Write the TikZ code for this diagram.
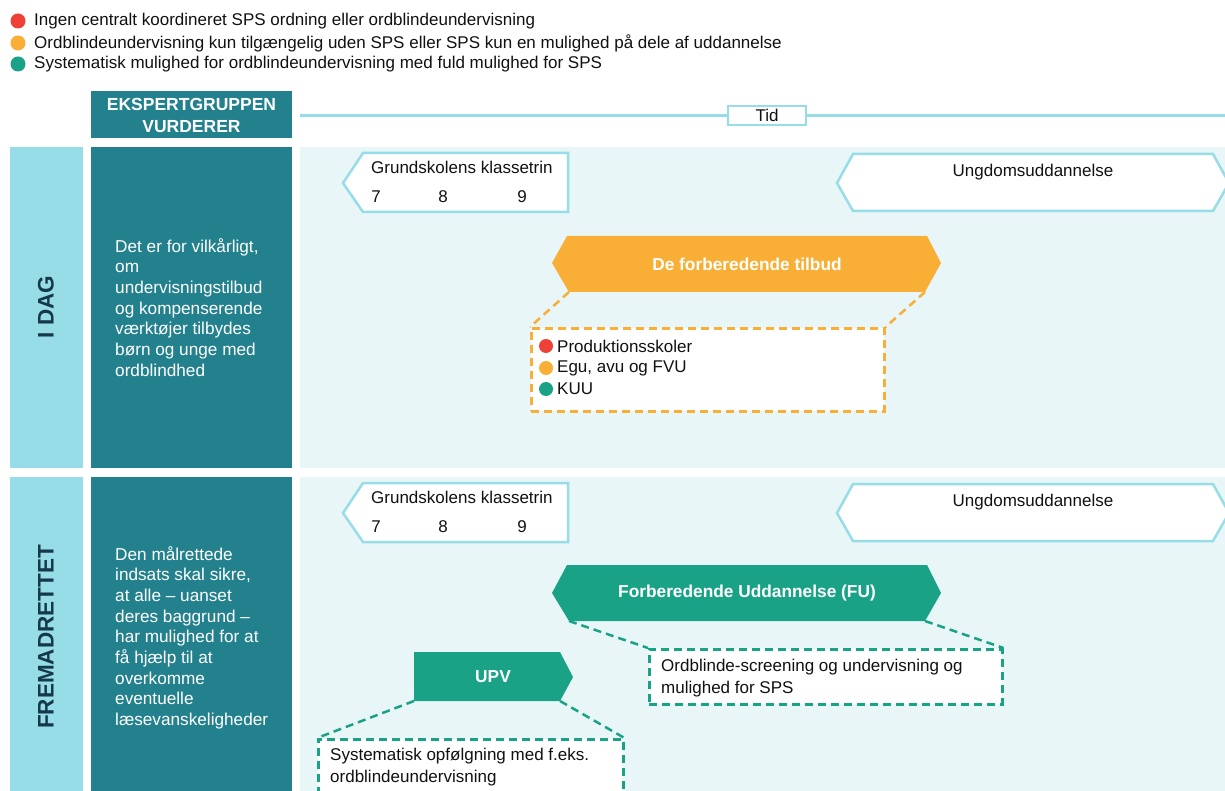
\documentclass[tikz,border=0pt]{standalone}
\usepackage{fontspec}
\setmainfont{Liberation Sans}
\definecolor{cteal}{HTML}{22818D}
\definecolor{ccol}{HTML}{96DDE7}
\definecolor{cbg}{HTML}{E8F6F8}
\definecolor{cline}{HTML}{96DDE7}
\definecolor{corange}{HTML}{F9AF35}
\definecolor{cgreen}{HTML}{1AA286}
\definecolor{cred}{HTML}{EE4036}
\definecolor{cnavy}{HTML}{16384C}
\definecolor{ctext}{HTML}{111111}
\begin{document}
\begin{tikzpicture}[x=1pt,y=-1pt,
  txt/.style={inner sep=0pt, text=ctext, font=\fontsize{17}{20}\selectfont},
  legtext/.style={txt, anchor=west},
  whitebold/.style={inner sep=0pt, text=white, font=\bfseries\fontsize{17.3}{22}\selectfont, align=center},
  coltext/.style={inner sep=0pt, text=white, anchor=north west, align=left, font=\fontsize{17.2}{20.7}\selectfont},
  vlabel/.style={inner sep=0pt, rotate=90, text=cnavy, font=\bfseries\fontsize{22.5}{26}\selectfont},
  cyanshape/.style={draw=cline, line width=2.5pt, fill=white, line join=miter},
  obox/.style={draw=corange, line width=2.5pt, dash pattern=on 8pt off 5pt, fill=white, anchor=north west, inner sep=0pt},
  gbox/.style={draw=cgreen, line width=2.5pt, dash pattern=on 8pt off 5pt, fill=white, anchor=north west, inner sep=0pt},
  odash/.style={draw=corange, line width=2.5pt, dash pattern=on 8pt off 5pt},
  gdash/.style={draw=cgreen, line width=2.5pt, dash pattern=on 8pt off 5pt},
]
\useasboundingbox (0,0) rectangle (1225,791);
\clip (0,0) rectangle (1225,791);
\fill[white] (0,0) rectangle (1225,791);

% legend
\fill[cred] (18,21) circle (7.5);
\fill[corange] (18,43) circle (7.5);
\fill[cgreen] (18,64) circle (7.5);
\node[legtext] (l1) at (34,21) {Ingen centralt koordineret SPS ordning eller ordblindeundervisning};
\node[legtext] (l2) at (34,43) {Ordblindeundervisning kun tilgængelig uden SPS eller SPS kun en mulighed på dele af uddannelse};
\node[legtext] (l3) at (34,64) {Systematisk mulighed for ordblindeundervisning med fuld mulighed for SPS};

% header
\fill[cteal] (91,91) rectangle (292,138);
\node[whitebold, font=\bfseries\fontsize{17.5}{22}\selectfont] (hdr) at (191.5,115) {EKSPERTGRUPPEN\\VURDERER};

% timeline
\node[draw=cline, line width=2pt, fill=white, minimum width=78pt, minimum height=19pt, inner sep=0pt, font=\fontsize{17}{18}\selectfont, text=ctext] (tid) at (767,115.5) {Tid};
\coordinate (tl0) at (300,115.5);
\coordinate (tl1) at (1225,115.5);
\draw[cline, line width=2.5pt] (tl0) -- (tid.west);
\draw[cline, line width=2.5pt] (tid.east) -- (tl1);

% row backgrounds
\fill[ccol] (10,147) rectangle (83,468);
\fill[cteal] (91,147) rectangle (292,468);
\fill[cbg] (300,147) rectangle (1225,468);
\fill[ccol] (10,477) rectangle (83,800);
\fill[cteal] (91,477) rectangle (292,800);
\fill[cbg] (300,477) rectangle (1225,800);

\node[vlabel] (idag) at (46,307) {I DAG};
\node[vlabel] (frem) at (46,637) {FREMADRETTET};

\node[coltext] (t1) at (115,238) {Det er for vilkårligt,\\om\\undervisningstilbud\\og kompenserende\\værktøjer tilbydes\\børn og unge med\\ordblindhed};
\node[coltext] (t2) at (115,546) {Den målrettede\\indsats skal sikre,\\at alle -- uanset\\deres baggrund --\\har mulighed for at\\få hjælp til at\\overkomme\\eventuelle\\læsevanskeligheder};

% ---- Row 1 ----
\draw[cyanshape] (343,183) -- (363,153) -- (568,153) -- (568,212) -- (363,212) -- cycle;
\node[txt, anchor=west] (g1) at (371,167) {Grundskolens klassetrin};
\node[txt] (g1a) at (376,197) {7};
\node[txt] (g1b) at (443,197) {8};
\node[txt] (g1c) at (522,197) {9};

\draw[cyanshape] (837,183) -- (853,154) -- (1213,154) -- (1229,183) -- (1213,211) -- (853,211) -- cycle;
\node[txt] (u1) at (1033,172) {Ungdomsuddannelse};

\fill[corange] (552,263) -- (567,236) -- (927,236) -- (941,263) -- (925,292) -- (569,292) -- cycle;
\coordinate (fo-bl) at (569,292);
\coordinate (fo-br) at (925,292);
\node[whitebold] (fo) at (747,264) {De forberedende tilbud};

\node[obox, minimum width=353pt, minimum height=83pt] (ob) at (530,327) {};
\draw[odash] (fo-bl) -- (ob.north west);
\draw[odash] (fo-br) -- (ob.north east);
\fill[cred] (546,346) circle (7);
\fill[corange] (546,368) circle (7);
\fill[cgreen] (546,389) circle (7);
\node[txt, anchor=west] (o1) at (557,346) {Produktionsskoler};
\node[txt, anchor=west] (o2) at (557,368) {Egu, avu og FVU};
\node[txt, anchor=west] (o3) at (557,389) {KUU};

% ---- Row 2 ----
\draw[cyanshape] (343,513) -- (363,483) -- (568,483) -- (568,542) -- (363,542) -- cycle;
\node[txt, anchor=west] (g2) at (371,497) {Grundskolens klassetrin};
\node[txt] (g2a) at (376,527) {7};
\node[txt] (g2b) at (443,527) {8};
\node[txt] (g2c) at (522,527) {9};

\draw[cyanshape] (837,513) -- (853,484) -- (1213,484) -- (1229,513) -- (1213,541) -- (853,541) -- cycle;
\node[txt] (u2) at (1033,502) {Ungdomsuddannelse};

\fill[cgreen] (552,593) -- (567,565) -- (927,565) -- (941,593) -- (925,621) -- (569,621) -- cycle;
\coordinate (fu-bl) at (569,621);
\coordinate (fu-br) at (925,621);
\node[whitebold] (fu) at (747,593) {Forberedende Uddannelse (FU)};

\node[gbox, minimum width=353pt, minimum height=55pt] (gb1) at (648,648) {};
\draw[gdash] (fu-bl) -- (gb1.north west);
\draw[gdash] (fu-br) -- (gb1.north east);
\node[txt, anchor=north west, align=left, font=\fontsize{17}{22}\selectfont] (gb1t) at (661,659) {Ordblinde-screening og undervisning  og\\mulighed  for SPS};

\fill[cgreen] (414,652) -- (560,652) -- (573,677) -- (560,701) -- (414,701) -- cycle;
\coordinate (up-bl) at (414,701);
\coordinate (up-br) at (560,701);
\node[whitebold] (upv) at (493,677) {UPV};

\node[gbox, minimum width=305pt, minimum height=70pt] (gb2) at (317,738) {};
\draw[gdash] (up-bl) -- (gb2.north west);
\draw[gdash] (up-br) -- (gb2.north east);
\node[txt, anchor=north west, align=left, font=\fontsize{17}{22}\selectfont] (gb2t) at (330,748) {Systematisk opfølgning  med f.eks.\\ordblindeundervisning};
\end{tikzpicture}
\end{document}
